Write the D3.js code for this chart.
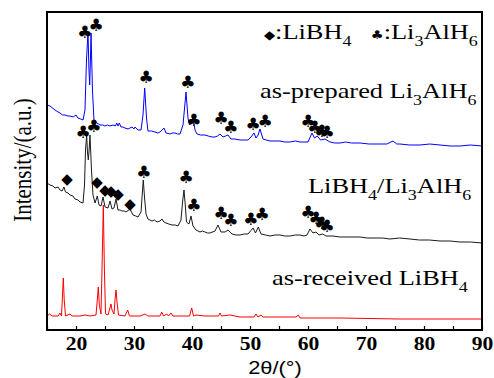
<!DOCTYPE html>
<html>
<head>
<meta charset="utf-8">
<script src="https://cdn.jsdelivr.net/npm/d3@7"></script>
<style>
  body { margin: 0; background: #fff; }
  svg { display: block; }
  .note { font-family: 'Liberation Serif', 'Times New Roman', serif; font-size: 22px; fill: #000; }
  .sym { font-family: 'DejaVu Sans', sans-serif; fill: #000; }
  .x-axis text { font-family: 'Liberation Serif', serif; font-weight: bold; font-size: 18px; fill: #000; }
  .x-axis line { stroke: #000; stroke-width: 1.2; }
</style>
</head>
<body>
<svg id="chart" width="494" height="378"></svg>
<script>
// Layout
const W = 494;
const H = 378;
const M = { top: 12, right: 12, bottom: 48, left: 47 };
const STRETCH = 1.2; // text in the source is drawn wide

// Data: [2theta, intensity (a.u.)]
const preparedLi3AlH6 = [
  [15.0, 225], [15.52, 224], [16.38, 220], [16.9, 218], [17.24, 217], [17.7, 215], [18.1, 215],
  [18.6, 214], [18.97, 214], [19.5, 213], [20.0, 215], [20.34, 212], [20.8, 211], [21.21, 210],
  [21.55, 220], [21.81, 270], [22.07, 298], [22.22, 262], [22.36, 245], [22.48, 268], [22.59, 297],
  [22.84, 240], [23.1, 210], [23.62, 207], [24.14, 205], [24.6, 205], [25.0, 204], [25.4, 205],
  [25.86, 204], [26.38, 205], [26.8, 204], [27.02, 207], [27.24, 204], [27.47, 207], [27.76, 203],
  [28.1, 203], [28.45, 202], [28.97, 201], [29.3, 202], [29.66, 203], [30.0, 201], [30.17, 203],
  [30.69, 200], [31.21, 200], [31.55, 215], [31.84, 242], [32.16, 212], [32.41, 199], [33.0, 199],
  [33.62, 198], [34.1, 197], [34.48, 198], [34.83, 200], [35.17, 202], [35.52, 197], [36.21, 196],
  [36.6, 197], [37.07, 197], [37.5, 196], [37.93, 196], [38.45, 205], [38.97, 238], [39.31, 212],
  [39.57, 205], [39.9, 207], [40.17, 212], [40.52, 200], [40.86, 196], [41.5, 195], [42.24, 195],
  [42.8, 194], [43.45, 193], [43.97, 193], [44.4, 194], [44.83, 196], [45.34, 193], [45.8, 194],
  [46.21, 195], [46.72, 191], [47.4, 191], [48.28, 190], [49.0, 190], [49.66, 190], [50.17, 193],
  [50.69, 197], [51.03, 192], [51.4, 195], [51.72, 201], [52.24, 191], [52.8, 190], [53.45, 189],
  [54.3, 189], [55.17, 189], [56.0, 188], [56.9, 188], [57.8, 189], [58.62, 188], [59.3, 188],
  [60.0, 188], [60.69, 197], [61.12, 192], [61.6, 194], [62.16, 190], [62.93, 191], [63.79, 188],
  [64.6, 187], [65.52, 187], [66.5, 188], [67.5, 187], [68.97, 187], [70.5, 186], [72.41, 186],
  [73.6, 186], [74.66, 189], [75.3, 186], [75.86, 186], [77.5, 185], [79.31, 185], [81.0, 186],
  [82.76, 185], [84.5, 184], [86.21, 184], [88.0, 185], [90.0, 184]
];

const mixture = [
  [15.0, 147], [15.52, 145], [16.03, 144], [16.38, 142], [16.9, 143], [17.24, 140], [17.59, 139],
  [17.93, 143], [18.19, 138], [18.62, 137], [18.97, 135], [19.48, 134], [19.83, 131], [20.34, 130],
  [20.69, 128], [21.21, 127], [21.47, 145], [21.64, 180], [21.84, 195], [21.98, 178], [22.12, 170],
  [22.26, 180], [22.41, 195], [22.67, 160], [22.93, 135], [23.28, 127], [23.67, 134], [23.97, 125],
  [24.31, 124], [24.66, 133], [25.0, 123], [25.52, 122], [25.86, 129], [26.21, 121], [26.55, 122],
  [26.9, 131], [27.24, 120], [27.6, 120], [27.93, 119], [28.3, 119], [28.62, 118], [29.31, 121],
  [29.83, 115], [30.3, 114], [30.69, 113], [31.21, 118], [31.41, 135], [31.6, 150], [31.81, 133],
  [32.07, 116], [32.41, 111], [33.1, 109], [33.5, 110], [33.97, 108], [34.48, 109], [34.83, 111],
  [35.17, 108], [35.52, 107], [36.0, 106], [36.55, 105], [37.1, 105], [37.59, 104], [38.1, 110],
  [38.41, 130], [38.62, 140], [38.84, 125], [39.05, 108], [39.48, 106], [39.83, 114], [40.17, 104],
  [40.69, 100], [41.38, 98], [41.8, 99], [42.24, 98], [42.7, 97], [43.1, 97], [43.97, 99],
  [44.48, 105], [45.0, 98], [45.69, 98], [46.21, 100], [46.9, 96], [47.6, 95], [48.28, 95],
  [49.0, 96], [49.66, 96], [50.52, 102], [50.95, 97], [51.43, 103], [51.9, 96], [52.7, 95],
  [53.45, 94], [54.3, 95], [55.17, 95], [56.0, 94], [56.9, 94], [57.8, 95], [58.62, 95],
  [59.3, 94], [59.83, 95], [60.34, 101], [60.86, 97], [61.38, 98], [61.9, 95], [62.53, 96],
  [63.1, 94], [64.3, 94], [65.52, 93], [67.2, 93], [68.97, 93], [70.2, 92], [71.55, 92],
  [72.8, 92], [74.14, 91], [75.8, 92], [77.59, 91], [79.2, 90], [80.9, 90], [82.76, 89],
  [84.5, 89], [86.21, 88], [88.0, 88], [90.0, 87]
];

const receivedLiBH4 = [
  [15.0, 14], [15.43, 16], [15.86, 14], [16.9, 14], [17.24, 17], [17.5, 14], [17.67, 35],
  [17.81, 52], [17.97, 30], [18.19, 14], [18.97, 16], [19.31, 14], [20.69, 14], [21.55, 15],
  [22.41, 14], [23.45, 15], [23.67, 30], [23.84, 43], [24.02, 25], [24.31, 16], [24.52, 70],
  [24.71, 125], [24.9, 60], [25.09, 16], [25.52, 15], [25.86, 22], [26.03, 26], [26.21, 20],
  [26.55, 16], [26.72, 30], [26.9, 40], [27.07, 28], [27.33, 15], [28.45, 14], [28.91, 20],
  [29.22, 14], [31.03, 14], [31.9, 16], [32.41, 14], [34.48, 14], [34.78, 18], [35.09, 14],
  [35.64, 16], [35.95, 14], [36.38, 17], [36.72, 14], [39.57, 14], [39.95, 22], [40.26, 14],
  [40.69, 15], [42.24, 14], [44.57, 14], [44.83, 17], [45.09, 14], [46.55, 15], [48.28, 13],
  [50.69, 13], [51.03, 16], [51.38, 13], [51.9, 15], [52.24, 13], [57.93, 13], [58.33, 15],
  [58.62, 12], [65.52, 12], [75.86, 11], [90.0, 11]
];

// Peak markers: [2theta, intensity]
const clubsPrepared = [
  [21.55, 298], [23.45, 305], [32.07, 253], [39.31, 248], [40.34, 210], [45.0, 212], [46.72, 203],
  [50.52, 206], [52.59, 209], [60.0, 209], [61.2, 203], [62.4, 199], [63.28, 198]
];
const clubsMixture = [
  [21.21, 198], [23.1, 204], [31.72, 158], [38.97, 153], [40.34, 125], [45.0, 117], [46.72, 110],
  [50.17, 111], [52.07, 116], [60.0, 118], [61.38, 112], [62.41, 107], [63.28, 104]
];
const diamondsMixture = [
  [18.45, 151], [23.62, 148], [25.0, 140], [26.03, 139], [27.24, 136], [29.31, 126]
];

const xTicks = d3.range(15, 91, 5);
const xLabels = [20, 30, 40, 50, 60, 70, 80, 90];

const svg = d3.select('#chart');

// Scales
const x = d3.scaleLinear([15, 90], [M.left, W - M.right]);
const y = d3.scaleLinear([0, 318], [H - M.bottom, M.top]);

// Curves
const line = d3.line()
  .x((d) => x(d[0]))
  .y((d) => y(d[1]));

const series = [
  { data: receivedLiBH4, color: '#ff0000' },
  { data: mixture, color: '#1a1a1a' },
  { data: preparedLi3AlH6, color: '#0000ff' },
];

svg.append('g')
  .selectAll('path')
  .data(series)
  .join('path')
  .attr('fill', 'none')
  .attr('stroke', (d) => d.color)
  .attr('stroke-width', 1)
  .attr('stroke-linejoin', 'round')
  .attr('d', (d) => line(d.data));

// X axis with inward ticks
const xAxis = d3.axisBottom(x)
  .tickValues(xTicks)
  .tickSizeInner(-4)
  .tickSizeOuter(0)
  .tickPadding(7)
  .tickFormat((d) => (xLabels.includes(d) ? d : ''));

const gx = svg.append('g')
  .attr('class', 'x-axis')
  .attr('transform', `translate(0, ${H - M.bottom})`)
  .call(xAxis);
gx.select('.domain').remove();
gx.selectAll('text').attr('transform', `scale(${STRETCH}, 1)`);

// Frame
svg.append('rect')
  .attr('x', M.left)
  .attr('y', M.top)
  .attr('width', W - M.left - M.right)
  .attr('height', H - M.top - M.bottom)
  .attr('fill', 'none')
  .attr('stroke', '#000')
  .attr('stroke-width', 2);

// Peak symbols
function addSymbols(data, glyph, size) {
  svg.append('g')
    .selectAll('text')
    .data(data)
    .join('text')
    .attr('class', 'sym')
    .attr('x', (d) => x(d[0]))
    .attr('y', (d) => y(d[1]))
    .attr('text-anchor', 'middle')
    .attr('dominant-baseline', 'central')
    .attr('font-size', size)
    .text(glyph);
}
addSymbols(clubsPrepared, '\u2663', 17);
addSymbols(clubsMixture, '\u2663', 17);
addSymbols(diamondsMixture, '\u25C6', 15);

// Text with subscripts, stretched horizontally from its left edge
// each part: [text, kind, dx]; 'sub' drops the baseline, 'back' restores it
function addLabel(parts, px, py) {
  const t = svg.append('text')
    .attr('class', 'note')
    .attr('transform', `translate(${px}, ${py}) scale(${STRETCH}, 1)`);
  parts.forEach(([s, kind = '', dx]) => {
    const ts = t.append('tspan').text(s);
    if (kind.includes('sub')) ts.attr('font-size', 15).attr('dy', 7);
    if (kind.includes('back')) ts.attr('dy', -7);
    if (kind.includes('sym')) ts.attr('class', 'sym').attr('font-size', 12);
    if (dx) ts.attr('dx', dx);
  });
  return t;
}

addLabel([
  ['\u25C6', 'sym'], [':LiBH'], ['4', 'sub'], ['\u2663', 'sym back', 16], [':Li'],
  ['3', 'sub'], ['AlH', 'back'], ['6', 'sub'],
], 264, 39);
addLabel([['as-prepared Li'], ['3', 'sub'], ['AlH', 'back'], ['6', 'sub']], 260, 98);
addLabel([['LiBH'], ['4', 'sub'], ['/Li', 'back'], ['3', 'sub'], ['AlH', 'back'], ['6', 'sub']], 308, 193);
addLabel([['as-received LiBH'], ['4', 'sub']], 272, 285);

// Axis titles
svg.append('text')
  .attr('transform', 'translate(275, 374) scale(1.15, 1)')
  .attr('text-anchor', 'middle')
  .style('font-family', "'Liberation Sans', Arial, sans-serif")
  .style('font-size', '19px')
  .text('2\u03B8/(\u00B0)');

svg.append('text')
  .attr('transform', `translate(31, 160) scale(${STRETCH}, 1) rotate(-90)`)
  .attr('text-anchor', 'middle')
  .attr('class', 'note')
  .style('font-size', '21px')
  .text('Intensity/(a.u.)');
</script>
</body>
</html>
